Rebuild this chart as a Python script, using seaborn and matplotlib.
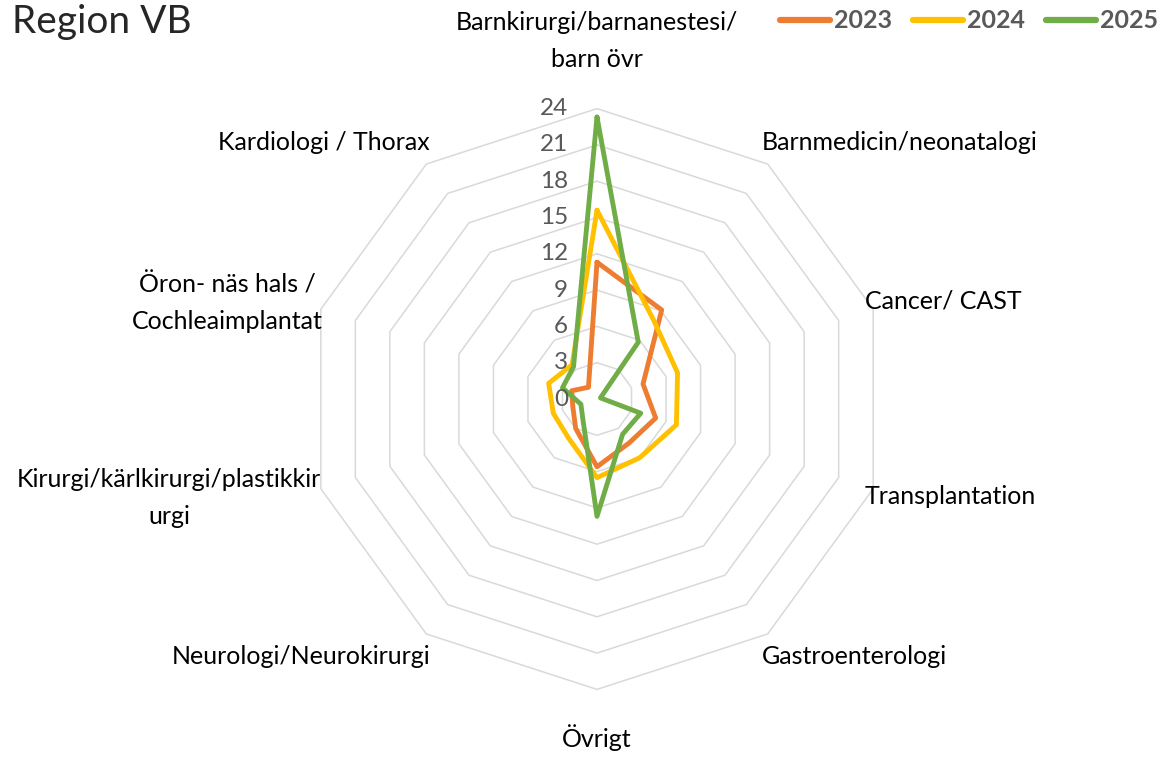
import numpy as np
import pandas as pd
import seaborn as sns
import matplotlib.pyplot as plt

# Data (clockwise from top)
categories = [
    'Barnkirurgi/barnanestesi/\nbarn övr',
    'Barnmedicin/neonatalogi',
    'Cancer/ CAST',
    'Transplantation',
    'Gastroenterologi',
    'Övrigt',
    'Neurologi/Neurokirurgi',
    'Kirurgi/kärlkirurgi/plastikkir\nurgi',
    'Öron- näs hals /\nCochleaimplantat',
    'Kardiologi / Thorax',
]
years = ['2023', '2024', '2025']
v2023 = [11.3, 9.1, 4.0, 5.1, 4.5, 5.6, 3.0, 2.1, 2.2, 1.2]
v2024 = [15.6, 8.0, 7.0, 6.9, 6.0, 6.5, 4.0, 3.8, 4.2, 3.5]
v2025 = [23.3, 5.8, 0.3, 3.8, 3.6, 9.7, 2.0, 1.4, 3.0, 3.3]
ticks = [0, 3, 6, 9, 12, 15, 18, 21, 24]
colors = {'2023': '#ED7D31', '2024': '#FFC000', '2025': '#70AD47'}

sns.set_style('white')
plt.rcParams['font.family'] = ['Lato', 'DejaVu Sans']

W, H = 1170, 757
cx, cy, scale = 597, 399, 12.1   # centre in pixels, pixels per unit

fig = plt.figure(figsize=(W / 100, H / 100), dpi=100)
ax = fig.add_axes([0, 0, 1, 1])
ax.set_xlim(-cx / scale, (W - cx) / scale)
ax.set_ylim(-(H - cy) / scale, cy / scale)
ax.axis('off')

n = len(categories)
theta = np.arange(n) * 2 * np.pi / n

# polygon grid rings
for t in ticks[1:]:
    ring_t = np.append(theta, theta[0])
    ax.plot(t * np.sin(ring_t), t * np.cos(ring_t), color='#D9D9D9', lw=1.1, zorder=1)

# long-form table, closing each polygon
rows = []
for yr, vals in zip(years, [v2023, v2024, v2025]):
    for i in list(range(n)) + [0]:
        rows.append({'year': yr, 'x': vals[i] * np.sin(theta[i]), 'y': vals[i] * np.cos(theta[i])})
df = pd.DataFrame(rows)

sns.lineplot(data=df, x='x', y='y', hue='year', palette=colors, sort=False,
             estimator=None, lw=3.5, ax=ax, zorder=3)

# radial tick labels
for t in ticks:
    ax.text(-2.4, t, str(t), ha='right', va='center', fontsize=17.5, color='#595959', zorder=4)

# category labels (pixel positions of the text anchors)
label_pos = [
    (597, 41, 'center'),
    (762, 143, 'left'),
    (865, 301, 'left'),
    (865, 497, 'left'),
    (762, 656, 'left'),
    (597, 738, 'center'),
    (430, 656, 'right'),
    (169, 498, 'center'),
    (227, 303, 'center'),
    (430, 143, 'right'),
]
for lab, (px, py, ha) in zip(categories, label_pos):
    fig.text(px / W, 1 - py / H, lab, ha=ha, va='center', fontsize=18,
             multialignment='center', linespacing=1.7, color='black')

fig.text(12 / W, 1 - 22 / H, 'Region VB', fontsize=28, ha='left', va='center')

sns.move_legend(ax, 'center right', bbox_to_anchor=(1158 / W, 1 - 21 / H),
                bbox_transform=fig.transFigure, ncol=3, title=None, frameon=False,
                handlelength=2.0, handletextpad=0.15, columnspacing=0.85,
                borderaxespad=0, borderpad=0,
                prop={'weight': 'bold', 'size': 18}, labelcolor='#595959')
for h in ax.get_legend().legend_handles:
    h.set_linewidth(4.5)
    h.set_solid_capstyle('round')

fig.savefig('out.png', dpi=100)
